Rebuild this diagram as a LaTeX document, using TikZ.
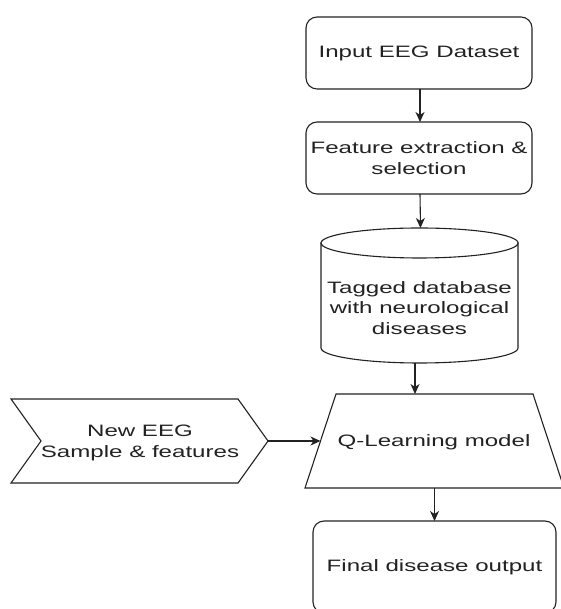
\documentclass[tikz,border=0pt]{standalone}
\usepackage{fontspec}
\setmainfont[FakeStretch=1.46]{Liberation Sans}
\usetikzlibrary{arrows.meta}
\definecolor{lc}{HTML}{222222}
\begin{document}
\begin{tikzpicture}[x=1pt,y=1pt,
  lbl/.style={font=\fontsize{16.5}{20.5}\selectfont, align=center, text=lc},
  rbox/.style={lbl, draw=lc, line width=1.1pt, rounded corners=11pt, fill=white,
    minimum width=226pt, minimum height=72pt, inner sep=0pt, outer sep=0pt},
  ghost/.style={lbl, draw=none, inner sep=0pt, outer sep=0pt},
  shp/.style={draw=lc, line width=1.1pt, fill=white, line join=miter},
  arr/.style={draw=lc, line width=1.1pt, -{Stealth[length=10pt,width=9pt,inset=3pt]}}
]
\useasboundingbox (0,0) rectangle (560,609);

% boxes
\node[rbox] (b1) at (419,556) {Input EEG Dataset};
\node[rbox] (b2) at (419,451) {Feature extraction \&\\selection};

% cylinder
\node[ghost, minimum width=197pt, minimum height=135pt] (db) at (419.5,313.5) {};
\draw[shp] (321,366) -- (321,261) arc[start angle=180,end angle=360,x radius=98.5,y radius=15] -- (518,366) -- cycle;
\draw[shp] (419.5,366) ellipse[x radius=98.5,y radius=15];
\node[ghost] (dbt) at (419.5,301) {Tagged database\\with neurological\\diseases};

% trapezoid
\node[ghost, minimum width=259pt, minimum height=94pt] (ql) at (434.5,168) {};
\draw[shp] ([xshift=31pt]ql.north west) -- ([xshift=-31pt]ql.north east) -- (ql.south east) -- (ql.south west) -- cycle;
\node[ghost] (qlt) at (434,167) {Q-Learning model};
\coordinate (qin) at ([xshift=15.5pt]ql.west);

% chevron
\node[ghost, minimum width=257pt, minimum height=84pt] (ch) at (139.5,168) {};
\draw[shp] (ch.north west) -- ([xshift=-30pt]ch.north east) -- (ch.east) -- ([xshift=-30pt]ch.south east) -- (ch.south west) -- ([xshift=30pt]ch.west) -- cycle;
\node[ghost] (cht) at (140,166) {New EEG\\Sample \& features};

% final box
\node[rbox, minimum width=243pt, minimum height=92pt] (b5) at (434.5,42) {Final disease output};

% connectors
\draw[arr] ([xshift=1pt]b1.south) -- ([xshift=1pt]b2.north);
\draw[arr] ([xshift=1pt]b2.south) -- ([xshift=1pt]db.north);
\draw[arr] ([xshift=-4.5pt]db.south) -- ([xshift=-4.5pt]db.south |- ql.north);
\draw[arr] (ql.south) -- (ql.south |- b5.north);
\draw[arr] (ch.east) -- (qin);
\end{tikzpicture}
\end{document}
